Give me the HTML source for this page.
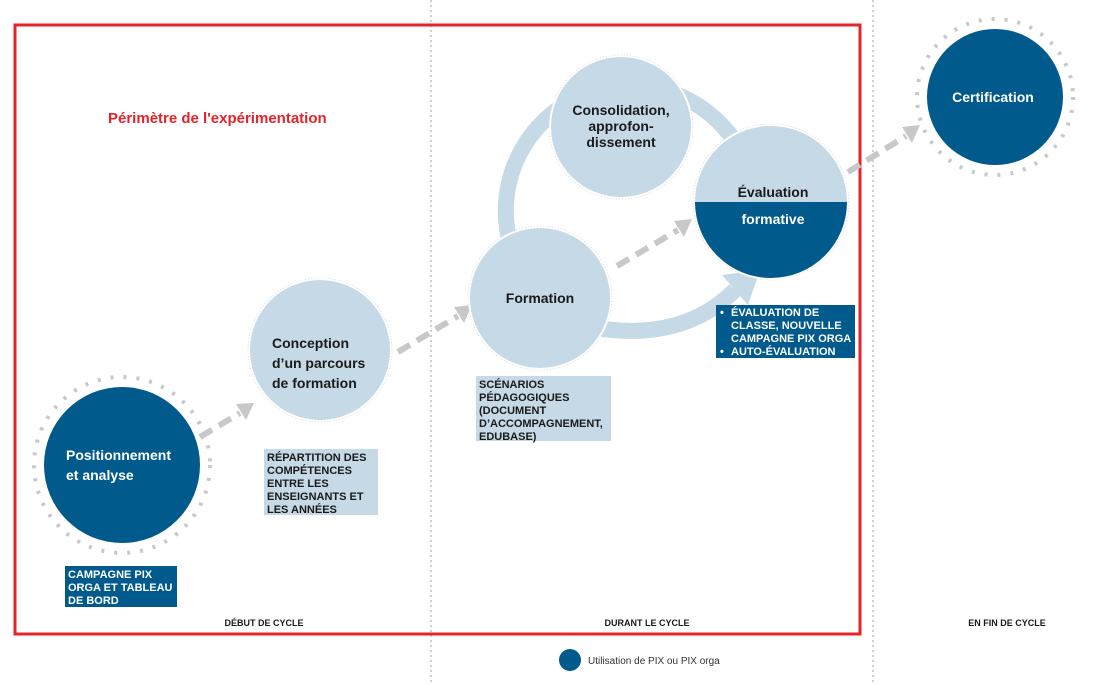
<!DOCTYPE html>
<html><head><meta charset="utf-8"><style>
html,body{margin:0;padding:0;background:#fff}
svg{display:block}
text{font-family:"Liberation Sans",sans-serif}
</style></head><body>
<svg width="1108" height="685" viewBox="0 0 1108 685" xmlns="http://www.w3.org/2000/svg">
<line x1="431" y1="0" x2="431" y2="685" stroke="#d0d0d0" stroke-width="2" stroke-dasharray="2 3"/>
<line x1="873" y1="0" x2="873" y2="685" stroke="#d0d0d0" stroke-width="2" stroke-dasharray="2 3"/>
<rect x="15" y="25" width="845" height="609" fill="none" stroke="#e5232a" stroke-width="3"/>
<text x="108" y="123" font-size="15" font-weight="bold" fill="#e5232a">Périmètre de l'expérimentation</text>

<path d="M600 332 A125 125 0 1 1 740 150" fill="none" stroke="#c5d9e6" stroke-width="16"/>
<path d="M585 326 Q680 345 735 290" fill="none" stroke="#c5d9e6" stroke-width="16"/>
<polygon points="722,275 760,270 748,305" fill="#c5d9e6"/>

<g stroke="#c8c8c8" stroke-width="6" stroke-dasharray="14 8" fill="none">
<line x1="200" y1="437" x2="240" y2="413"/>
<line x1="398" y1="352" x2="458" y2="316"/>
<line x1="617" y1="266" x2="678" y2="230"/>
<line x1="848" y1="172" x2="906" y2="136"/>
</g>
<g fill="#c8c8c8">
<polygon points="236,404 254,403 246,420"/>
<polygon points="454,307 472,305 464,323"/>
<polygon points="674,221 692,219 684,237"/>
<polygon points="902,127 920,125 912,143"/>
</g>

<circle cx="122" cy="465" r="88" fill="none" stroke="#c8c8c8" stroke-width="4" stroke-dasharray="3 10"/>
<circle cx="122" cy="465" r="78" fill="#005a8c"/>
<text x="66" y="460" font-size="14" font-weight="bold" fill="#fff">Positionnement</text>
<text x="66" y="480" font-size="14" font-weight="bold" fill="#fff">et analyse</text>

<circle cx="320" cy="350" r="72" fill="none" stroke="#ddd" stroke-width="1" stroke-dasharray="1 2"/>
<circle cx="320" cy="350" r="70" fill="#c5d9e6"/>
<text x="272" y="348" font-size="14" font-weight="bold" fill="#1a1a1a">Conception</text>
<text x="272" y="368" font-size="14" font-weight="bold" fill="#1a1a1a">d’un parcours</text>
<text x="272" y="388" font-size="14" font-weight="bold" fill="#1a1a1a">de formation</text>

<circle cx="540" cy="298" r="72" fill="#fff" stroke="#ddd" stroke-width="1" stroke-dasharray="1 2"/>
<circle cx="540" cy="298" r="70" fill="#c5d9e6"/>
<text x="540" y="303" font-size="14" font-weight="bold" fill="#1a1a1a" text-anchor="middle">Formation</text>

<circle cx="621" cy="127" r="72" fill="#fff" stroke="#ddd" stroke-width="1" stroke-dasharray="1 2"/>
<circle cx="621" cy="127" r="70" fill="#c5d9e6"/>
<g font-size="14" font-weight="bold" fill="#1a1a1a" text-anchor="middle">
<text x="621" y="115">Consolidation,</text>
<text x="621" y="131">approfon-</text>
<text x="621" y="147">dissement</text>
</g>

<circle cx="771" cy="202" r="78" fill="#fff" stroke="#ddd" stroke-width="1" stroke-dasharray="1 2"/>
<clipPath id="ec"><circle cx="771" cy="202" r="76"/></clipPath>
<g clip-path="url(#ec)">
<rect x="690" y="120" width="170" height="82" fill="#c5d9e6"/>
<rect x="690" y="202" width="170" height="80" fill="#005a8c"/>
</g>
<text x="773" y="197" font-size="14" font-weight="bold" fill="#1a1a1a" text-anchor="middle">Évaluation</text>
<text x="773" y="224" font-size="14" font-weight="bold" fill="#fff" text-anchor="middle">formative</text>

<circle cx="995" cy="97" r="78" fill="none" stroke="#c8c8c8" stroke-width="4" stroke-dasharray="3 10"/>
<circle cx="995" cy="97" r="68" fill="#005a8c"/>
<text x="993" y="102" font-size="14" font-weight="bold" fill="#fff" text-anchor="middle">Certification</text>

<g font-size="11" font-weight="bold">
<rect x="65" y="566" width="112" height="41" fill="#005a8c"/>
<text fill="#fff"><tspan x="68" y="578">CAMPAGNE PIX</tspan><tspan x="68" y="591">ORGA ET TABLEAU</tspan><tspan x="68" y="604">DE BORD</tspan></text>

<rect x="264" y="449" width="114" height="66" fill="#c5d9e6"/>
<text fill="#1a1a1a"><tspan x="267" y="461">RÉPARTITION DES</tspan><tspan x="267" y="474">COMPÉTENCES</tspan><tspan x="267" y="487">ENTRE LES</tspan><tspan x="267" y="500">ENSEIGNANTS ET</tspan><tspan x="267" y="513">LES ANNÉES</tspan></text>

<rect x="476" y="376" width="135" height="65" fill="#c5d9e6"/>
<text fill="#1a1a1a"><tspan x="479" y="388">SCÉNARIOS</tspan><tspan x="479" y="401">PÉDAGOGIQUES</tspan><tspan x="479" y="414">(DOCUMENT</tspan><tspan x="479" y="427">D’ACCOMPAGNEMENT,</tspan><tspan x="479" y="440">EDUBASE)</tspan></text>

<rect x="716" y="305" width="139" height="53" fill="#005a8c"/>
<text fill="#fff"><tspan x="720" y="316">•</tspan><tspan x="731" y="316">ÉVALUATION DE</tspan><tspan x="731" y="329">CLASSE, NOUVELLE</tspan><tspan x="731" y="342">CAMPAGNE PIX ORGA</tspan><tspan x="720" y="355">•</tspan><tspan x="731" y="355">AUTO-ÉVALUATION</tspan></text>
</g>

<g font-size="9" font-weight="bold" fill="#1a1a1a" text-anchor="middle">
<text x="264" y="626">DÉBUT DE CYCLE</text>
<text x="647" y="626">DURANT LE CYCLE</text>
<text x="1007" y="626">EN FIN DE CYCLE</text>
</g>
<circle cx="570" cy="660" r="11" fill="#005a8c"/>
<text x="588" y="664" font-size="10" fill="#333">Utilisation de PIX ou PIX orga</text>
</svg>
</body></html>
